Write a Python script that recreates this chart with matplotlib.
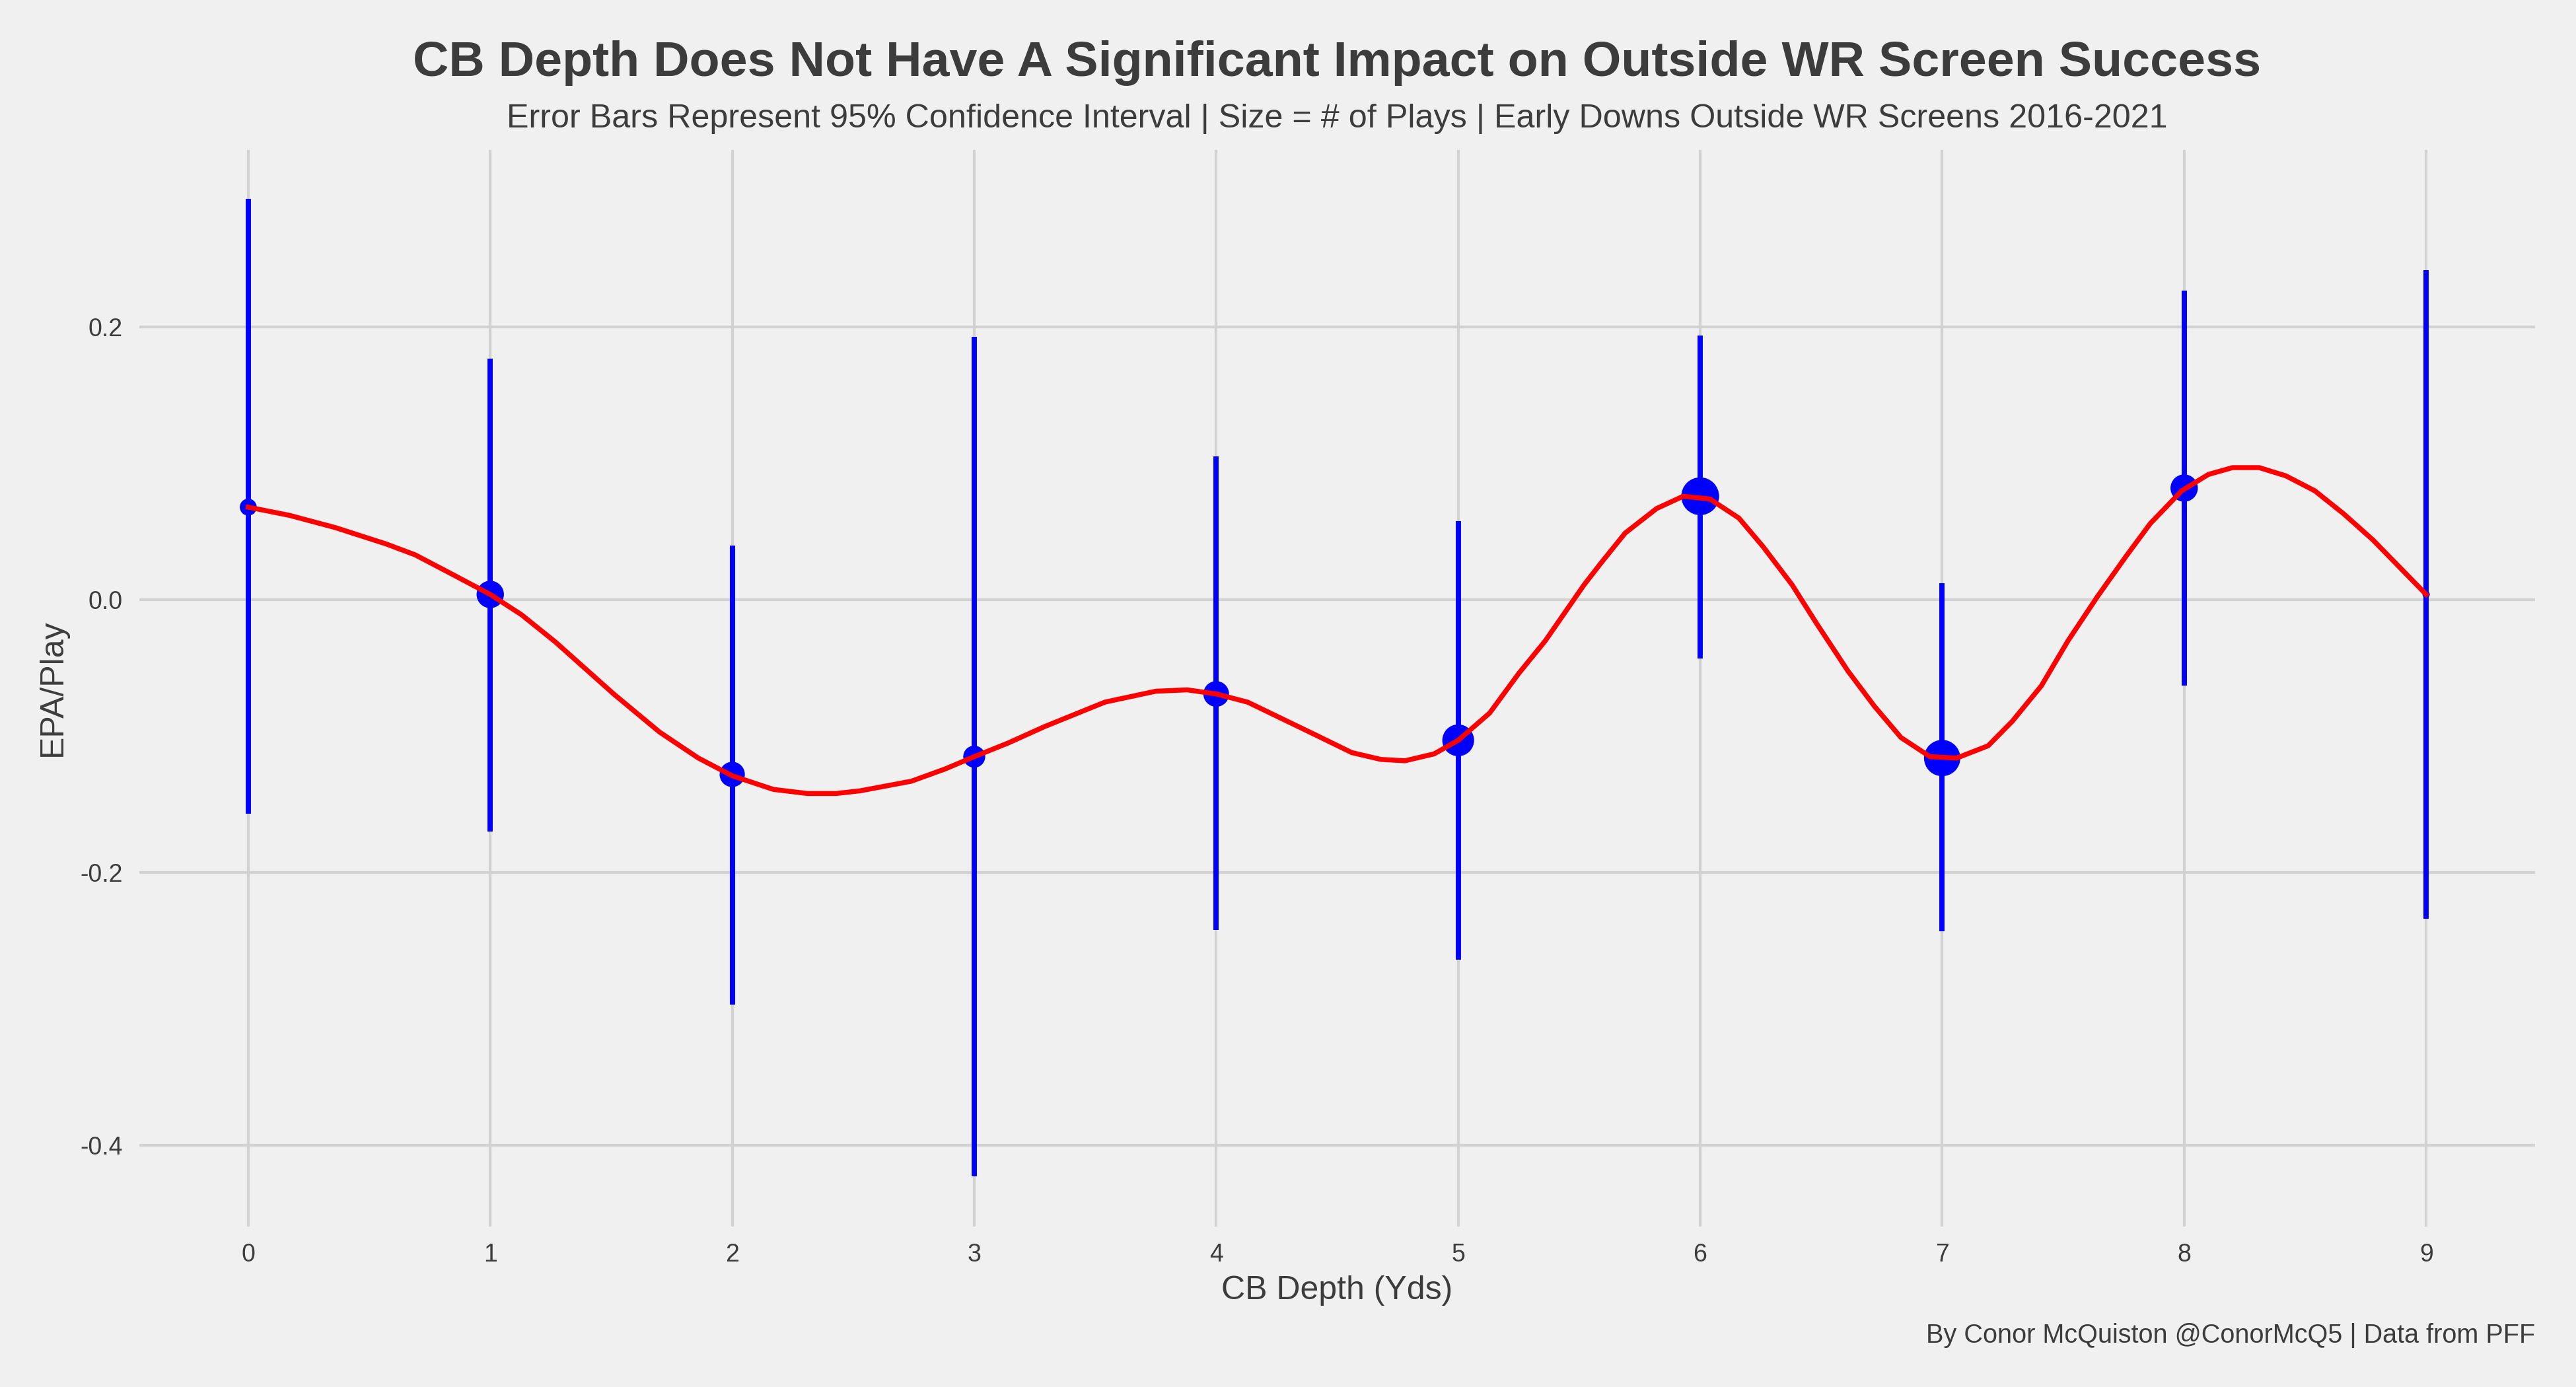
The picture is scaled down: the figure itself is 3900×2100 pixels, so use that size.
import matplotlib.pyplot as plt

plt.rcParams['font.family'] = ['Liberation Sans', 'DejaVu Sans']

# CB depth (yds) and EPA/play with 95% CI
depth = [0, 1, 2, 3, 4, 5, 6, 7, 8, 9]
epa = [0.068, 0.004, -0.128, -0.115, -0.069, -0.103, 0.076, -0.116, 0.082, 0.004]
ci_low = [-0.157, -0.170, -0.297, -0.423, -0.242, -0.264, -0.043, -0.243, -0.063, -0.234]
ci_high = [0.294, 0.177, 0.040, 0.193, 0.105, 0.058, 0.194, 0.012, 0.227, 0.242]
plays = [65, 170, 145, 110, 150, 230, 325, 300, 170, 12]

# smoothed trend line
curve_x = [0.00, 0.17, 0.36, 0.57, 0.69, 0.83, 1.00, 1.13, 1.27, 1.39, 1.51, 1.70,
           1.86, 2.00, 2.17, 2.31, 2.43, 2.53, 2.74, 2.88, 3.00, 3.14, 3.29, 3.54,
           3.75, 3.88, 4.00, 4.13, 4.27, 4.41, 4.56, 4.68, 4.78, 4.90, 5.00, 5.13,
           5.25, 5.36, 5.52, 5.59, 5.69, 5.82, 5.93, 6.04, 6.16, 6.26, 6.38, 6.48,
           6.61, 6.72, 6.83, 6.95, 7.06, 7.19, 7.29, 7.41, 7.52, 7.64, 7.76, 7.86,
           7.99, 8.10, 8.20, 8.31, 8.42, 8.54, 8.66, 8.78, 8.89, 9.00]
curve_y = [0.068, 0.062, 0.053, 0.041, 0.033, 0.020, 0.004, -0.011, -0.031, -0.050,
           -0.069, -0.097, -0.116, -0.129, -0.139, -0.142, -0.142, -0.140, -0.133,
           -0.124, -0.115, -0.105, -0.093, -0.075, -0.067, -0.066, -0.069, -0.075,
           -0.087, -0.099, -0.112, -0.117, -0.118, -0.113, -0.103, -0.083, -0.054,
           -0.030, 0.011, 0.027, 0.049, 0.067, 0.076, 0.074, 0.060, 0.039, 0.011,
           -0.017, -0.052, -0.078, -0.101, -0.115, -0.116, -0.107, -0.089, -0.063,
           -0.030, 0.002, 0.032, 0.056, 0.080, 0.092, 0.097, 0.097, 0.091, 0.080,
           0.063, 0.044, 0.024, 0.004]

bg = '#F0F0F0'
txt = '#3C3C3C'

fig = plt.figure(figsize=(13, 7), dpi=300, facecolor=bg)
ax = fig.add_axes([0.0541, 0.1157, 0.93, 0.7762])
ax.set_facecolor(bg)

ax.vlines(depth, ci_low, ci_high, color='blue', linewidth=1.9, zorder=3)
ax.scatter(depth, epa, s=[p * 0.58 for p in plays], color='blue', zorder=4,
           linewidths=0)
ax.plot(curve_x, curve_y, color='red', linewidth=1.8, zorder=5)

ax.set_xlim(-0.45, 9.45)
ax.set_ylim(-0.4596, 0.33)
ax.set_xticks(depth)
ax.set_yticks([-0.4, -0.2, 0.0, 0.2])
ax.set_yticklabels(['-0.4', '-0.2', '0.0', '0.2'])
ax.grid(True, color='#D2D2D2', linewidth=1.0)
ax.set_axisbelow(True)
for s in ax.spines.values():
    s.set_visible(False)
ax.tick_params(length=0, pad=6, labelsize=9, labelcolor=txt)

fig.text(0.519, 0.9452, 'CB Depth Does Not Have A Significant Impact on Outside WR Screen Success',
         ha='center', va='baseline', fontsize=18.1, fontweight='bold', color=txt)
fig.text(0.519, 0.9081, 'Error Bars Represent 95% Confidence Interval | Size = # of Plays | '
         'Early Downs Outside WR Screens 2016-2021',
         ha='center', va='baseline', fontsize=12.05, color=txt)
fig.text(0.519, 0.0633, 'CB Depth (Yds)', ha='center', va='baseline', fontsize=12, color=txt)
fig.text(0.0205, 0.504, 'EPA/Play', ha='center', va='center', rotation=90,
         fontsize=12, color=txt)
fig.text(0.9841, 0.0319, 'By Conor McQuiston @ConorMcQ5 | Data from PFF',
         ha='right', va='baseline', fontsize=9.5, color=txt)

fig.savefig('out.png', dpi=300, facecolor=bg)
